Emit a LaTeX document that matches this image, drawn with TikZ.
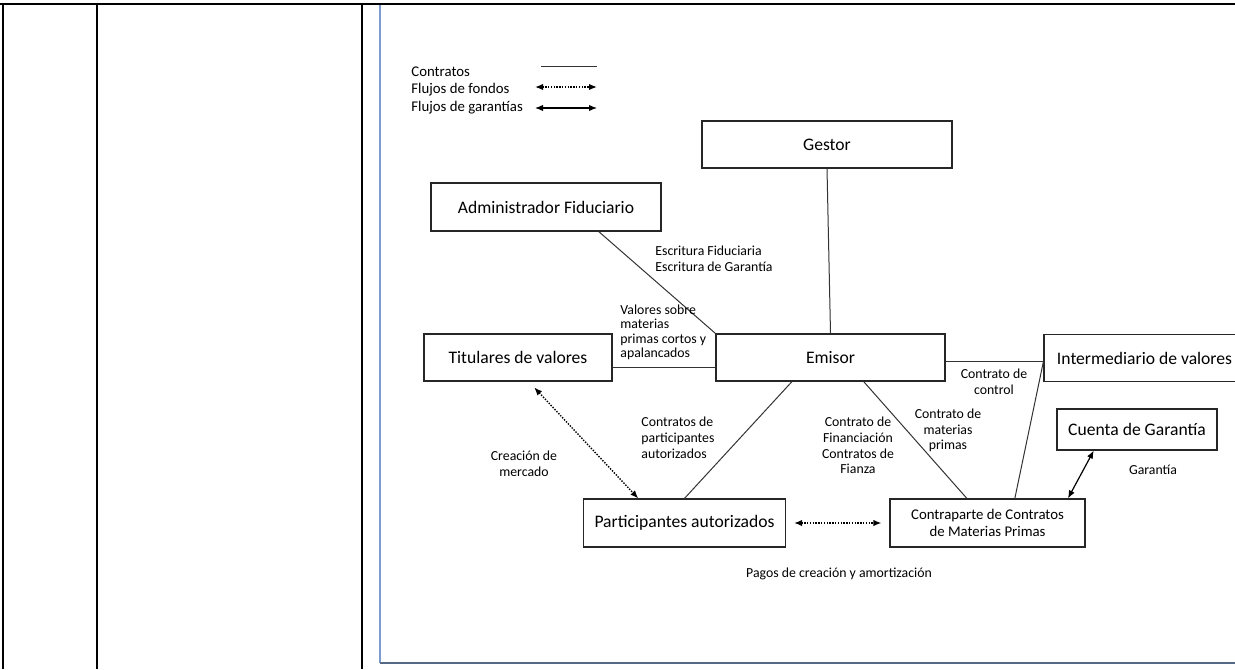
\documentclass[tikz,border=0pt]{standalone}
\usepackage{fontspec}
\setmainfont{Carlito}
\usetikzlibrary{arrows.meta}

\begin{document}
\begin{tikzpicture}[x=0.5pt,y=-0.5pt,
    box/.style={draw=black!85,line width=0.6pt,inner sep=0pt,align=center,font=\fontsize{8.8}{10}\selectfont},
    lbl/.style={inner sep=0pt,font=\fontsize{6.9}{7.9}\selectfont},
    link/.style={draw=black!80,line width=0.5pt},
    tip/.tip={Latex[length=4pt,width=3.2pt]},
    fondos/.style={line width=0.7pt,dash pattern=on 0.7pt off 0.7pt,tip-tip},
    garantias/.style={line width=0.6pt,tip-tip}]
  \useasboundingbox (0,0) rectangle (1235,669);
  % table lines
  \draw[line width=1.4pt] (0,4) -- (1235,4);
  \draw[line width=1.4pt] (3,4) -- (3,669) (97,4) -- (97,669) (362,4) -- (362,669);
  \draw[line width=0.8pt,color={rgb,255:red,125;green,155;blue,205}] (380,5) -- (380,663);
  \draw[line width=0.8pt,color={rgb,255:red,85;green,105;blue,135}] (380,663) -- (1240,663);
  % legend
  \draw
    (411,72) node[lbl,anchor=west,font=\fontsize{7.4}{8}\selectfont] (leg1){Contratos}
    (411,90) node[lbl,anchor=west,font=\fontsize{7.4}{8}\selectfont] (leg2){Flujos de fondos}
    (411,108) node[lbl,anchor=west,font=\fontsize{7.4}{8}\selectfont] (leg3){Flujos de garant\'ias};
  \coordinate (c1a) at (541,66);
  \coordinate (c1b) at (597,66);
  \coordinate (c2a) at (535,87);
  \coordinate (c2b) at (597,87);
  \coordinate (c3a) at (535,108);
  \coordinate (c3b) at (597,108);
  \draw[link] (c1a) -- (c1b);
  \draw[fondos] (c2a) -- (c2b);
  \draw[garantias] (c3a) -- (c3b);
  % boxes
  \draw
    (827,144.5) node[box,minimum width=125pt,minimum height=23.5pt] (gestor){Gestor}
    (546,207) node[box,minimum width=115pt,minimum height=24pt] (admin){Administrador Fiduciario}
    (518,357.5) node[box,minimum width=94pt,minimum height=23.5pt] (tit){Titulares de valores}
    (830.5,357.5) node[box,minimum width=114.5pt,minimum height=23.5pt] (emi){Emisor}
    (1144.5,358) node[box,minimum width=100.5pt,minimum height=23.5pt] (inter){Intermediario de valores}
    (1137,429.5) node[box,minimum width=80pt,minimum height=20.5pt] (cuenta){Cuenta de Garant\'ia}
    (684.5,523) node[box,minimum width=101pt,minimum height=24pt] (part){Participantes autorizados}
    (987.5,523) node[box,minimum width=97.5pt,minimum height=24pt,font=\fontsize{7.4}{8.5}\selectfont] (contra){Contraparte de Contratos\\de Materias Primas};
  % contracts
  \begin{scope}[link]
    \draw (admin.-25) to (emi.north west);
    \draw (gestor.south) to (emi.north);
    \draw (tit.-6) to (tit.-6 -| emi.west);
    \draw (inter.182) to (inter.182 -| emi.east);
    \draw (emi.-148) to (part.north);
    \draw (emi.-36) to (contra.130.5);
    \draw (inter.182) to (contra.42);
  \end{scope}
  % flows
  \draw[fondos,shorten <=4pt] (tit.-66) to (part.152);
  \draw[fondos,shorten <=4pt,shorten >=4pt] (part.east) to (contra.west);
  \draw[garantias] (cuenta.206) to (contra.17);
  % labels
  \draw
    (655,258.5) node[lbl,anchor=west,align=left] (esc){Escritura Fiduciaria\\Escritura de Garant\'ia}
    (620,332.5) node[lbl,anchor=west,align=left,font=\fontsize{6.9}{7.2}\selectfont] (val){Valores sobre\\materias\\primas cortos y\\apalancados}
    (994,382) node[lbl,align=center] (ctrl){Contrato de\\control}
    (948,430.5) node[lbl,align=center] (matp){Contrato de\\materias\\primas}
    (858,445.5) node[lbl,align=center] (fin){Contrato de\\Financiaci\'on\\Contratos de\\Fianza}
    (641,437.5) node[lbl,anchor=west,align=left] (cpart){Contratos de\\participantes\\autorizados}
    (524,464) node[lbl,align=center] (crea){Creaci\'on de\\mercado}
    (1153,470) node[lbl] (gar){Garant\'ia}
    (839,574) node[lbl] (pagos){Pagos de creaci\'on y amortizaci\'on};
\end{tikzpicture}
\end{document}
